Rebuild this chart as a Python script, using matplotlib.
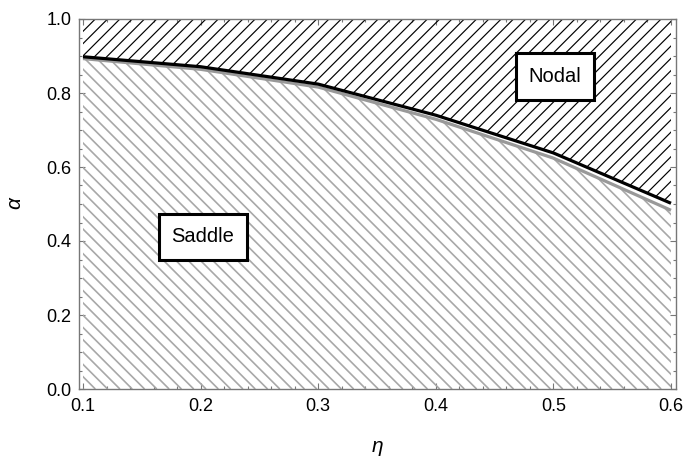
import numpy as np
import matplotlib
matplotlib.use("Agg")
import matplotlib.pyplot as plt
from matplotlib.collections import LineCollection
from matplotlib.patches import Rectangle
from matplotlib.ticker import MultipleLocator, FormatStrFormatter

plt.rcParams['font.family'] = ['Liberation Sans', 'DejaVu Sans']

# phase boundary alpha(eta): two estimates of the nodal/saddle transition
eta = [0.1, 0.2, 0.3, 0.4, 0.5, 0.6]
alpha_nodal = [0.898, 0.871, 0.824, 0.740, 0.638, 0.502]
alpha_saddle = [0.893, 0.864, 0.816, 0.729, 0.624, 0.483]

region_labels = ["Nodal", "Saddle"]
label_pos = [(0.5014, 0.845), (0.2019, 0.411)]

fig = plt.figure(figsize=(6.86, 4.59), dpi=100)
W, H = 686, 459
ax = fig.add_axes([79 / W, (H - 389) / H, (676 - 79) / W, (389 - 19) / H])
ax.set_xlim(0.1 - 4 / 1176, 0.6 + 5 / 1176)
ax.set_ylim(0, 1)

eta_a = np.array(eta)
top = np.array(alpha_nodal)
bot = np.array(alpha_saddle)

upper = ax.fill_between(eta_a, top, 1, facecolor='white', edgecolor='none', zorder=1)
lower = ax.fill_between(eta_a, 0, bot, facecolor='white', edgecolor='none', zorder=1)

# pixel scale of the data axes, used to lay hatch lines at 45 degrees on screen
p0 = ax.transData.transform((0, 0))
p1 = ax.transData.transform((1, 1))
kx, ky = p1 - p0
step = 12.3 / kx


def hatch(region, sign, color, lw):
    segs = []
    span = ky / kx
    for c in np.arange(eta_a[0] - span - step, eta_a[-1] + span + step, step):
        if sign > 0:
            segs.append([(c, 0), (c + span, 1)])
        else:
            segs.append([(c, 1), (c + span, 0)])
    lc = LineCollection(segs, colors=color, linewidths=lw, zorder=2)
    ax.add_collection(lc)
    lc.set_clip_path(region.get_paths()[0], ax.transData)


hatch(upper, +1, 'black', 0.85)
hatch(lower, -1, '#a8a8a8', 1.2)

ax.plot(eta_a, bot, color='#999999', lw=2.3, zorder=3, solid_capstyle='butt')
ax.plot(eta_a, top, color='black', lw=2.3, zorder=4, solid_capstyle='butt')

# framed region labels
fig.canvas.draw()
renderer = fig.canvas.get_renderer()
for name, (x, y) in zip(region_labels, label_pos):
    t = ax.text(x, y, name, fontsize=14.5, ha='center', va='center', zorder=6)
    tw = t.get_window_extent(renderer).width
    bw, bh = (tw + 25) / kx, 46.5 / ky
    ax.add_patch(Rectangle((x - bw / 2, y - bh / 2), bw, bh, fc='white',
                           ec='black', lw=2.2, zorder=5))

frame = '#777777'
for s in ax.spines.values():
    s.set_color(frame)
    s.set_linewidth(1.0)

ax.xaxis.set_major_locator(MultipleLocator(0.1))
ax.xaxis.set_minor_locator(MultipleLocator(0.02))
ax.yaxis.set_major_locator(MultipleLocator(0.2))
ax.yaxis.set_minor_locator(MultipleLocator(0.05))
ax.xaxis.set_major_formatter(FormatStrFormatter('%.1f'))
ax.yaxis.set_major_formatter(FormatStrFormatter('%.1f'))
ax.tick_params(which='both', direction='in', top=True, right=True, color=frame,
               labelcolor='black', labelsize=13)
ax.tick_params(which='major', length=4, width=0.8)
ax.tick_params(which='minor', length=2.5, width=0.8)
ax.tick_params(axis='y', which='major', pad=5.5)
ax.tick_params(axis='x', which='major', pad=6.5)

ax.set_xlabel('η', fontsize=15, style='italic', va='center')
ax.set_ylabel('α', fontsize=15, style='italic', va='center')
ax.xaxis.set_label_coords(0.5, (389 - 447) / 370)
ax.yaxis.set_label_coords((15 - 79) / 597, (389 - 203) / 370)

fig.savefig('out.png', dpi=100)
